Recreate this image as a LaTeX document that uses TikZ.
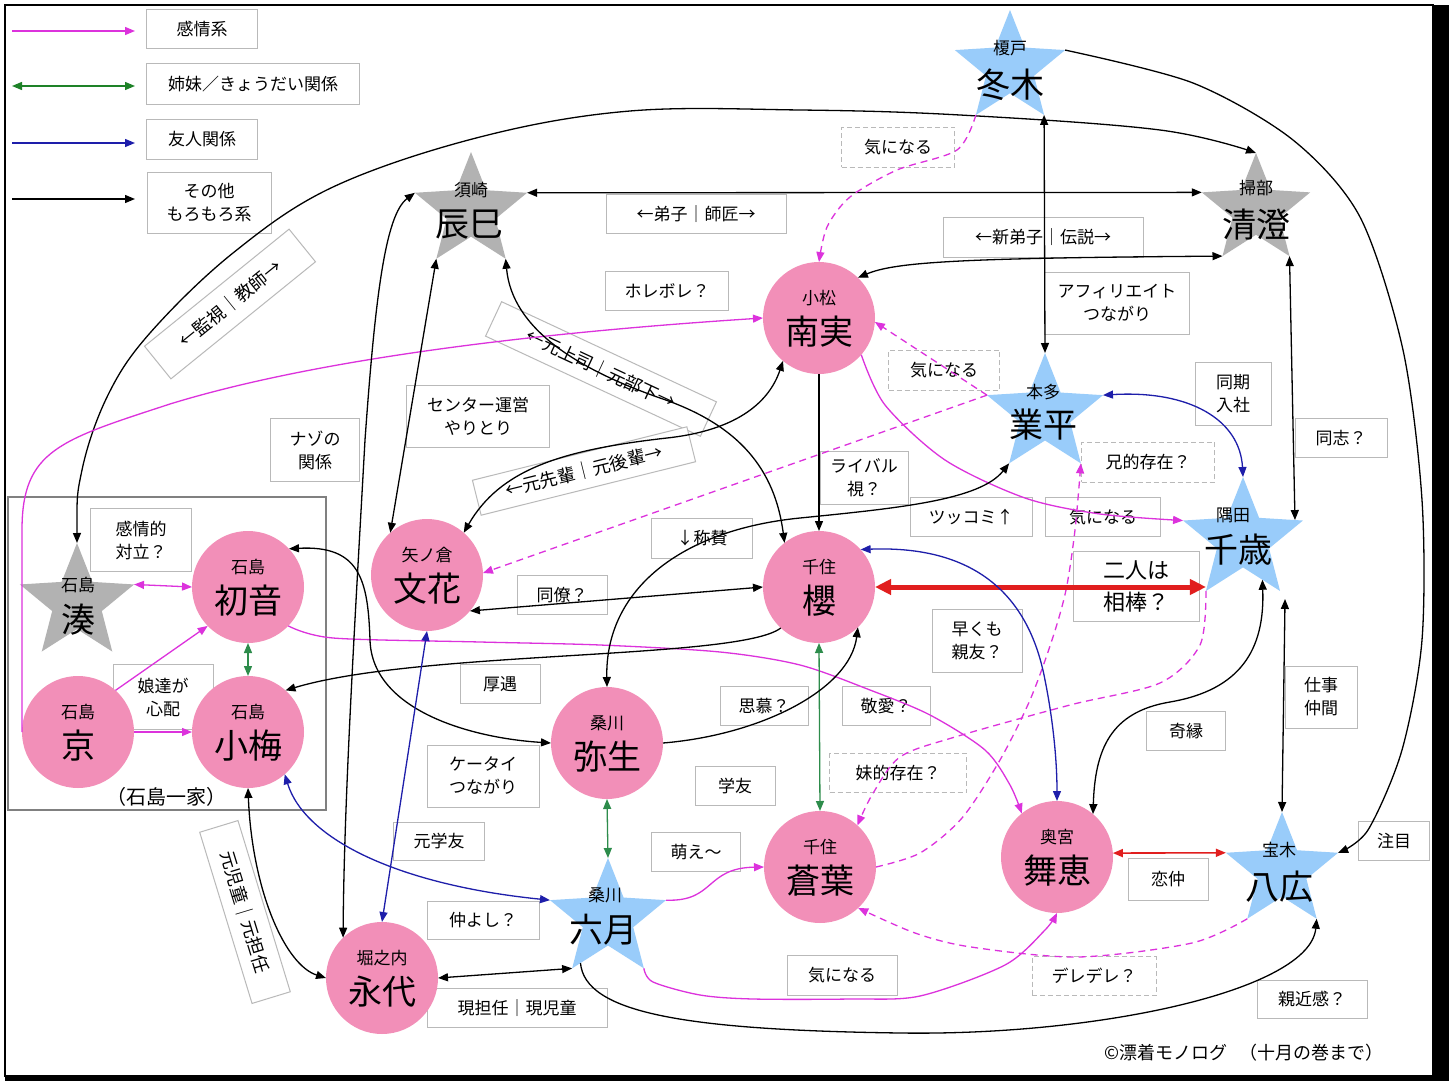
\documentclass[tikz,border=0pt]{standalone}
\usepackage{fontspec}
\setmainfont{Noto Sans CJK JP}
\usetikzlibrary{shapes.geometric,arrows.meta}
\definecolor{pk}{RGB}{242,143,184}
\definecolor{sb}{RGB}{153,204,250}
\definecolor{sg}{RGB}{178,178,178}
\definecolor{mg}{RGB}{220,50,220}
\definecolor{gr}{RGB}{45,140,75}
\definecolor{lgr}{RGB}{30,130,40}
\definecolor{bu}{RGB}{30,30,170}
\definecolor{rd}{RGB}{225,30,30}
\definecolor{bx}{RGB}{185,185,185}
\newcommand{\pcirc}[5]{%
  \node[pc] (#1) at (#2,#3) {};
  \node[nm] (#1s) at (#2,#3-20) {#4};
  \node[bn] (#1b) at (#2,#3+14) {#5};}
\begin{document}
\begin{tikzpicture}[x=1pt,y=-1pt,
  >={Triangle[length=10pt,width=8pt]},
  pc/.style={circle, fill=pk, minimum size=112pt, inner sep=0pt, outer sep=0pt},
  stb/.style={star, star points=5, star point ratio=2.3, fill=sb, inner sep=0pt, outer sep=0pt},
  stg/.style={stb, fill=sg},
  nm/.style={inner sep=0pt, font=\fontsize{17}{17}\selectfont},
  bn/.style={inner sep=0pt, font=\fontsize{34}{34}\selectfont},
  lb/.style={draw=bx, fill=white, line width=1pt, inner sep=0pt, align=center, font=\fontsize{17}{23}\selectfont},
  lbd/.style={lb, dash pattern=on 5pt off 3pt},
  sz/.style 2 args={minimum width=#1pt, minimum height=#2pt},
  bk/.style={draw=black, line width=1.3pt},
  mgl/.style={draw=mg, line width=1.3pt},
  mgd/.style={mgl, dash pattern=on 7pt off 5pt},
  grl/.style={draw=gr, line width=1.3pt},
  bll/.style={draw=bu, line width=1.3pt},
  rdl/.style={draw=rd, line width=1.6pt},
  rdt/.style={draw=rd, line width=5pt, {Triangle[length=16pt,width=15pt]}-{Triangle[length=16pt,width=15pt]}}
]
\useasboundingbox (0,0) rectangle (1449,1081);
\fill[white] (0,0) rectangle (1449,1081);
\draw[line width=1.5pt] (5,5) rectangle (1433,1076);
\fill[black] (1433,5) rectangle (1449,1081);
\fill[black] (5,1076) rectangle (1449,1081);

% family group
\node[draw=gray, line width=1.2pt, minimum width=318pt, minimum height=313pt, inner sep=0pt] (family) at (167,653.5) {};
\node[inner sep=0pt, font=\fontsize{20}{20}\selectfont] (famlabel) at (166,797) {（石島一家）};

% legend
\node[lb,sz={111}{39}] (lg1) at (202,29) {感情系};
\node[lb,sz={213}{40}] (lg2) at (253,84) {姉妹／きょうだい関係};
\node[lb,sz={111}{40}] (lg3) at (202,139) {友人関係};
\node[lb,sz={124}{61}] (lg4) at (209,203) {その他\\もろもろ系};
\coordinate (la1) at (12,31); \coordinate (lb1) at (135,31);
\coordinate (la2) at (12,86); \coordinate (lb2) at (135,86);
\coordinate (la3) at (12,143); \coordinate (lb3) at (135,143);
\coordinate (la4) at (12,199); \coordinate (lb4) at (135,199);
\draw[mgl,->] (la1) -- (lb1);
\draw[draw=lgr,line width=1.3pt,<->] (la2) -- (lb2);
\draw[bll,->] (la3) -- (lb3);
\draw[bk,->] (la4) -- (lb4);

% labels
\node[lb,sz={180}{39}] (l1) at (696,214) {←弟子｜師匠→};
\node[lb,sz={123}{39}] (l2) at (667,291) {ホレボレ？};
\node[lbd,sz={113}{40}] (l3) at (898,147) {気になる};
\node[lb,sz={200}{40}] (l4) at (1043,237) {←新弟子｜伝説→};
\node[lb,sz={145}{62}] (l5) at (1117,303) {アフィリエイト\\つながり};
\node[lbd,sz={111}{40}] (l6) at (944,370) {気になる};
\node[lb,sz={76}{63}] (l7) at (1233,394) {同期\\入社};
\node[lb,sz={92}{39}] (l8) at (1341,438) {同志？};
\node[lbd,sz={133}{40}] (l9) at (1148,462) {兄的存在？};
\node[lb,sz={122}{39}] (l10) at (971,517) {ツッコミ↑};
\node[lb,sz={115}{39}] (l11) at (1103,517) {気になる};
\node[lb,sz={126}{70},font=\fontsize{22}{32}\selectfont] (l12) at (1136,586) {二人は\\相棒？};
\node[lb,sz={90}{63}] (l13) at (977,641) {早くも\\親友？};
\node[lb,sz={72}{62}] (l14) at (1321,697) {仕事\\仲間};
\node[lb,sz={79}{39}] (l15) at (1186,731) {奇縁};
\node[lb,sz={71}{39}] (l16) at (1394,841) {注目};
\node[lb,sz={80}{42}] (l17) at (1168,879) {恋仲};
\node[lbd,sz={124}{39}] (l18) at (1094,976) {デレデレ？};
\node[lb,sz={110}{38}] (l19) at (1312,999) {親近感？};
\node[lb,sz={110}{40}] (l20) at (842,975) {気になる};
\node[lb,sz={89}{39}] (l21) at (696,852) {萌え〜};
\node[lb,sz={80}{39}] (l22) at (735,786) {学友};
\node[lb,sz={88}{39}] (l23) at (764,706) {思慕？};
\node[lb,sz={88}{39}] (l24) at (886,706) {敬愛？};
\node[lbd,sz={137}{39}] (l25) at (898,773) {妹的存在？};
\node[lb,sz={80}{39}] (l26) at (500,684) {厚遇};
\node[lb,sz={112}{62}] (l27) at (483,776) {ケータイ\\つながり};
\node[lb,sz={91}{38}] (l28) at (439,841) {元学友};
\node[lb,sz={112}{38}] (l29) at (483,920) {仲よし？};
\node[lb,sz={180}{39}] (l30) at (517,1008) {現担任｜現児童};
\node[lb,sz={143}{62}] (l31) at (478,416) {センター運営\\やりとり};
\node[lb,sz={89}{63}] (l32) at (315,450) {ナゾの\\関係};
\node[lb,sz={101}{63}] (l33) at (141,540) {感情的\\対立？};
\node[lb,sz={100}{65}] (l34) at (163,697) {娘達が\\心配};
\node[lb,sz={90}{39}] (l35) at (562,595) {同僚？};
\node[lb,sz={101}{40}] (l36) at (702,538) {↓称賛};
\node[lb,sz={88}{53}] (l37) at (864,478) {ライバル\\視？};
\node[lb,sz={186}{42},rotate=39,font=\fontsize{18}{18}\selectfont] (r1) at (230,304) {←監視｜教師→};
\node[lb,sz={237}{38},rotate=-25,font=\fontsize{18}{18}\selectfont] (r2) at (601,369) {←元上司｜元部下→};
\node[lb,sz={221}{36},rotate=14,font=\fontsize{18}{18}\selectfont] (r3) at (584,471) {←元先輩｜元後輩→};
\node[lb,sz={179}{40},rotate=-73,font=\fontsize{18}{18}\selectfont] (r4) at (245,912) {元児童｜元担任};
\node[inner sep=0pt, anchor=west, font=\fontsize{18}{18}\selectfont] (copy) at (1104,1053) {©漂着モノログ\hspace{0.7em}（十月の巻まで）};

% circles
\pcirc{nanami}{819}{318}{小松}{南実}
\pcirc{hatsune}{248}{587}{石島}{初音}
\pcirc{fumika}{427}{575}{矢ノ倉}{文花}
\pcirc{sakura}{819}{587}{千住}{櫻}
\pcirc{kei}{78}{732}{石島}{京}
\pcirc{koume}{248}{732}{石島}{小梅}
\pcirc{yayoi}{607}{743}{桑川}{弥生}
\pcirc{aoba}{820}{867}{千住}{蒼葉}
\pcirc{maie}{1057}{857}{奥宮}{舞恵}
\pcirc{eitai}{382}{978}{堀之内}{永代}

% stars
\node[stb, minimum size=116pt] (fuyuki) at (1010,68) {};
\node[nm] (fuyukis) at (1010,48) {榎戸};
\node[bn] (fuyukib) at (1010,85) {冬木};
\node[stg, minimum size=114pt] (kiyosumi) at (1256,210) {};
\node[nm] (kiyosumis) at (1256,188) {掃部};
\node[bn] (kiyosumib) at (1256,225) {清澄};
\node[stg, minimum size=118pt] (tatsumi) at (471,211) {};
\node[nm] (tatsumis) at (471,190) {須崎};
\node[bn] (tatsumib) at (469,225) {辰巳};
\node[stb, minimum size=122pt] (narihira) at (1045,414) {};
\node[nm] (narihiras) at (1043,392) {本多};
\node[bn] (narihirab) at (1043,425) {業平};
\node[stb, minimum size=126pt] (chitose) at (1243,540) {};
\node[nm] (chitoses) at (1233,515) {隅田};
\node[bn] (chitoseb) at (1238,550) {千歳};
\node[stg, minimum size=120pt] (minato) at (77,603) {};
\node[nm] (minatos) at (78,585) {石島};
\node[bn] (minatob) at (78,620) {湊};
\node[stb, minimum size=122pt] (mutsuki) at (608,919) {};
\node[nm] (mutsukis) at (605,895) {桑川};
\node[bn] (mutsukib) at (603,930) {六月};
\node[stb, minimum size=118pt] (yahiro) at (1282,871) {};
\node[nm] (yahiros) at (1279,850) {宝木};
\node[bn] (yahirob) at (1279,887) {八広};

% edges
\draw[bk,<->] plot[smooth,tension=0.6] coordinates {(minato.north) (82,470) (108,395) (150,333) (233,253) (333,187) (480,137) (630,111) (800,110) (960,115) (1160,130) (kiyosumi.north)};
\draw[bk,<->] (tatsumi.18) -- (kiyosumi.162);
\draw[bk,<->] (nanami.46) .. controls (895,262) and (960,258) .. (kiyosumi.234);
\draw[bk,<->] (fuyuki.306) -- (narihira.north);
\draw[bk,->] plot[smooth] coordinates {(fuyuki.18) (1193,83) (1293,140) (1360,217) (1403,350) (1422,500) (1422,640) (1402,750) (1368,830) (yahiro.18)};
\draw[bk,<->] (kiyosumi.306) -- (chitose.21);
\draw[bk,<->] ([xshift=5pt,yshift=-8pt]chitose.306) -- (yahiro.north);
\draw[bk,<->] (chitose.296) .. controls (1265,650) and (1240,690) .. (1170,702) .. controls (1110,712) and (1095,750) .. (maie.50);
\draw[bll,<->] (narihira.18) .. controls (1190,390) and (1240,420) .. (chitose.north);
\draw[mgl,->] plot[smooth] coordinates {(nanami.-41) (885,405) (945,460) (1025,498) (1100,514) (chitose.162)};
\draw[mgd,->] plot[smooth] coordinates {(fuyuki.234) (957,150) (897,170) (850,197) (827,227) (nanami.north)};
\draw[mgd,->] (narihira.162) -- (nanami.-4);
\draw[mgd,->] (narihira.162) -- (fumika.2);
\draw[mgd,->] plot[smooth] coordinates {(chitose.234) (1200,645) (1160,683) (1070,705) (955,737) (900,757) (872,795) (aoba.48)};
\draw[mgd,->] plot[smooth] coordinates {(aoba.0) (920,853) (962,818) (1000,760) (1030,700) (1052,640) (1066,590) (1075,530) (narihira.306)};
\draw[mgd,->] plot[smooth] coordinates {(yahiro.234) (1192,943) (1078,957) (971,947) (915,933) (aoba.-47)};
\draw[mgl,->] plot[smooth] coordinates {(hatsune.-44) (333,638) (480,642) (600,645) (720,652) (800,665) (870,690) (930,715) (985,750) (1010,785) (maie.129)};
\draw[mgl,->] plot[smooth] coordinates {(mutsuki.306) (653,982) (700,995) (753,999) (850,999) (920,996) (1005,965) (1045,930) (maie.south)};
\draw[mgl,->] (mutsuki.18) .. controls (715,902) and (705,868) .. (aoba.180);
\draw[grl,<->] (yayoi.south) -- (mutsuki.north);
\draw[grl,<->] (sakura.south) -- (aoba.north);
\draw[grl,<->] (hatsune.south) -- (koume.north);
\draw[mgl,<->] (minato.18) -- (hatsune.180);
\draw[mgl,->] (kei.48) -- (hatsune.224);
\draw[mgl,->] (kei.0) -- (koume.180);
\draw[mgl,->] (kei.180) -- (22,530) .. controls (22,450) and (60,440) .. (170,404) .. controls (300,364) and (500,335) .. (nanami.180);
\draw[bk,<->] (hatsune.43) .. controls (360,545) and (368,580) .. (370,640) .. controls (372,710) and (470,738) .. (yayoi.180);
\draw[bk,->] (sakura.227) .. controls (740,660) and (420,650) .. (koume.48);
\draw[bk,<->] (yayoi.north) .. controls (605,590) and (680,530) .. (800,518) .. controls (900,508) and (980,500) .. (narihira.234);
\draw[bk,->] (yayoi.0) .. controls (760,735) and (850,690) .. (sakura.-46);
\draw[bk,->] (nanami.south) -- (sakura.north);
\draw[bk,<->] (fumika.-40) -- (sakura.180);
\draw[bk,<->] (fumika.49) .. controls (500,470) and (560,450) .. (667,438) .. controls (740,430) and (770,400) .. (nanami.230);
\draw[bk,<->] (tatsumi.306) .. controls (512,330) and (580,370) .. (660,398) .. controls (740,425) and (775,470) .. (sakura.128);
\draw[bk,<->] (tatsumi.234) -- (fumika.131);
\draw[bk,<->] (tatsumi.162) .. controls (385,215) and (375,300) .. (365,440) .. controls (355,620) and (344,800) .. (eitai.134);
\draw[bll,<->] (fumika.south) -- (eitai.north);
\draw[bll,<->] (koume.-49) .. controls (305,840) and (400,885) .. (mutsuki.162);
\draw[bk,<->] (koume.south) .. controls (252,890) and (285,965) .. (eitai.180);
\draw[bk,<->] (eitai.0) -- (mutsuki.234);
\draw[bk,->] (mutsuki.238) .. controls (585,1012) and (680,1030) .. (900,1033) .. controls (1100,1036) and (1310,990) .. (yahiro.306);
\draw[rdt] (sakura.0) -- (sakura.0 -| chitose.234);
\draw[rdl,<->] (maie.4) -- (yahiro.162);
\draw[bll,<->] (sakura.42) .. controls (980,545) and (1030,600) .. (1045,680) .. controls (1053,720) and (1057,760) .. (maie.north);
\end{tikzpicture}
\end{document}
